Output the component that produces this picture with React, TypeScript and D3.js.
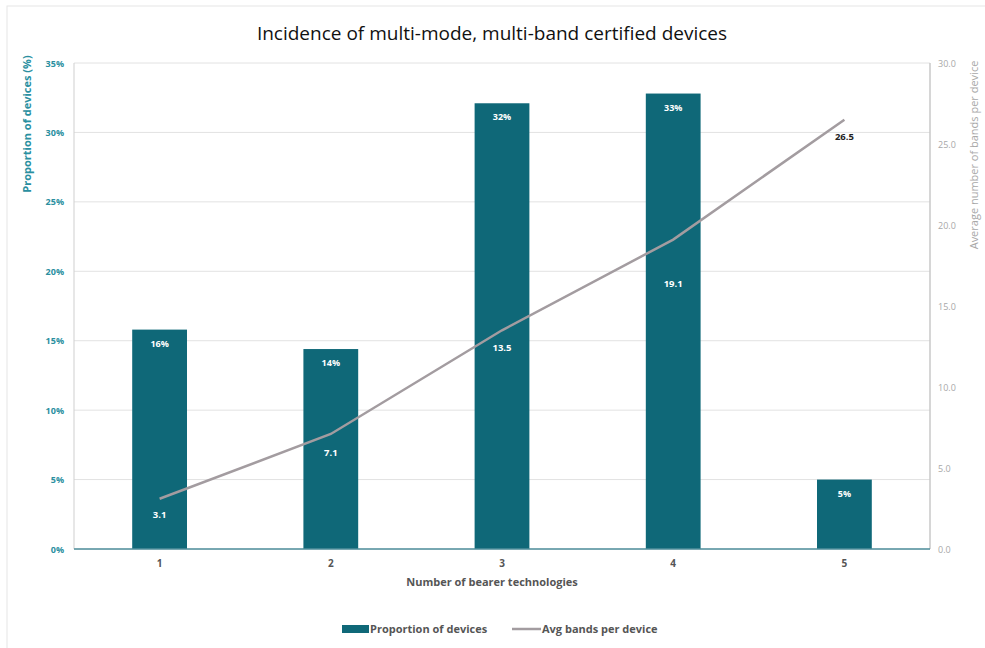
import React from "react";
import * as d3 from "d3";

const categories = ["1", "2", "3", "4", "5"];
const proportion = [15.8, 14.4, 32.1, 32.8, 5.0];
const proportionLabels = ["16%", "14%", "32%", "33%", "5%"];
const avgBands = [3.1, 7.1, 13.5, 19.1, 26.5];
const leftTicks = [0, 5, 10, 15, 20, 25, 30, 35];
const rightTicks = [0, 5, 10, 15, 20, 25, 30];
const lineLabelDy = [15, 18, 17, 43, 16];

const W = 985, H = 648;
const M = { left: 74, right: 930, top: 63, bottom: 549 };
const TEAL = "#0f6878";
const LINE = "#a39ca0";
const FONT = "'Open Sans', 'Liberation Sans', sans-serif";

export default function App() {
  const x = d3.scaleBand<string>().domain(categories).range([M.left, M.right]).paddingInner(0.68).paddingOuter(0.34);
  const xc = d3.scalePoint<string>().domain(categories).range([M.left, M.right]).padding(0.5);
  const yL = d3.scaleLinear().domain([0, 35]).range([M.bottom, M.top]);
  const yR = d3.scaleLinear().domain([0, 30]).range([M.bottom, M.top]);
  const line = d3.line<number>().x((_, i) => xc(categories[i])!).y((d) => yR(d));

  return (
    <svg width={W} height={H} style={{ position: "absolute", left: 0, top: 0, background: "#fff" }} fontFamily={FONT}>
      <rect x={7} y={6} width={W} height={H} fill="#fff" stroke="#e6e6e6" />
      <text x={492} y={40} textAnchor="middle" fontSize={19} fill="#111" fontFamily="'Liberation Sans Narrow', 'Open Sans', sans-serif">
        Incidence of multi-mode, multi-band certified devices
      </text>
      {/* gridlines */}
      {leftTicks.map((t) => (
        <line key={t} x1={M.left} x2={M.right} y1={yL(t)} y2={yL(t)} stroke="#e2e2e2" strokeWidth={1} />
      ))}
      <line x1={M.left} x2={M.left} y1={M.top} y2={M.bottom} stroke="#cfcfcf" />
      <line x1={M.right} x2={M.right} y1={M.top} y2={M.bottom} stroke="#c8c8c8" strokeWidth={1.5} />
      {/* bars */}
      {proportion.map((v, i) => (
        <rect key={i} x={x(categories[i])} y={yL(v)} width={x.bandwidth()} height={yL(0) - yL(v)} fill={TEAL} />
      ))}
      <line x1={M.left} x2={M.right} y1={M.bottom} y2={M.bottom} stroke="#4f8f9c" strokeWidth={1.5} />
      {proportion.map((v, i) => (
        <text key={i} x={xc(categories[i])} y={yL(v) + 17} textAnchor="middle" fontSize={9} fontWeight="bold" fill="#fff">
          {proportionLabels[i]}
        </text>
      ))}
      <path d={line(avgBands)!} fill="none" stroke={LINE} strokeWidth={2.5} />
      {avgBands.map((v, i) => (
        <text key={i} x={xc(categories[i])} y={yR(v) + lineLabelDy[i] + 4} textAnchor="middle" fontSize={9.5} fontWeight="bold" fill={i === 4 ? "#222" : "#fff"}>
          {v.toFixed(1)}
        </text>
      ))}
      {/* left axis */}
      {leftTicks.map((t) => (
        <text key={t} x={64} y={yL(t) + 3.5} textAnchor="end" fontSize={9} fontWeight="bold" fill="#2a8fa0">
          {t}%
        </text>
      ))}
      <text transform={`translate(31,124) rotate(-90)`} textAnchor="middle" fontSize={11} fontWeight="bold" fill="#2a8fa0">
        Proportion of devices (%)
      </text>
      {/* right axis */}
      {rightTicks.map((t) => (
        <text key={t} x={938} y={yR(t) + 3.5} textAnchor="start" fontSize={9} fill="#a8a8a8">
          {t.toFixed(1)}
        </text>
      ))}
      <text transform={`translate(978,155) rotate(-90)`} textAnchor="middle" fontSize={11} fill="#a8a8a8">
        Average number of bands per device
      </text>
      {/* x axis */}
      {categories.map((c) => (
        <text key={c} x={xc(c)} y={567} textAnchor="middle" fontSize={10} fontWeight="bold" fill="#555">
          {c}
        </text>
      ))}
      <text x={492} y={586} textAnchor="middle" fontSize={11} fontWeight="bold" fill="#555">
        Number of bearer technologies
      </text>
      {/* legend */}
      <rect x={342} y={625} width={27} height={8} fill={TEAL} />
      <text x={370} y={633} fontSize={11} fontWeight="bold" fill="#555">Proportion of devices</text>
      <line x1={512} x2={541} y1={629} y2={629} stroke={LINE} strokeWidth={2.5} />
      <text x={542} y={633} fontSize={11} fontWeight="bold" fill="#555">Avg bands per device</text>
    </svg>
  );
}
